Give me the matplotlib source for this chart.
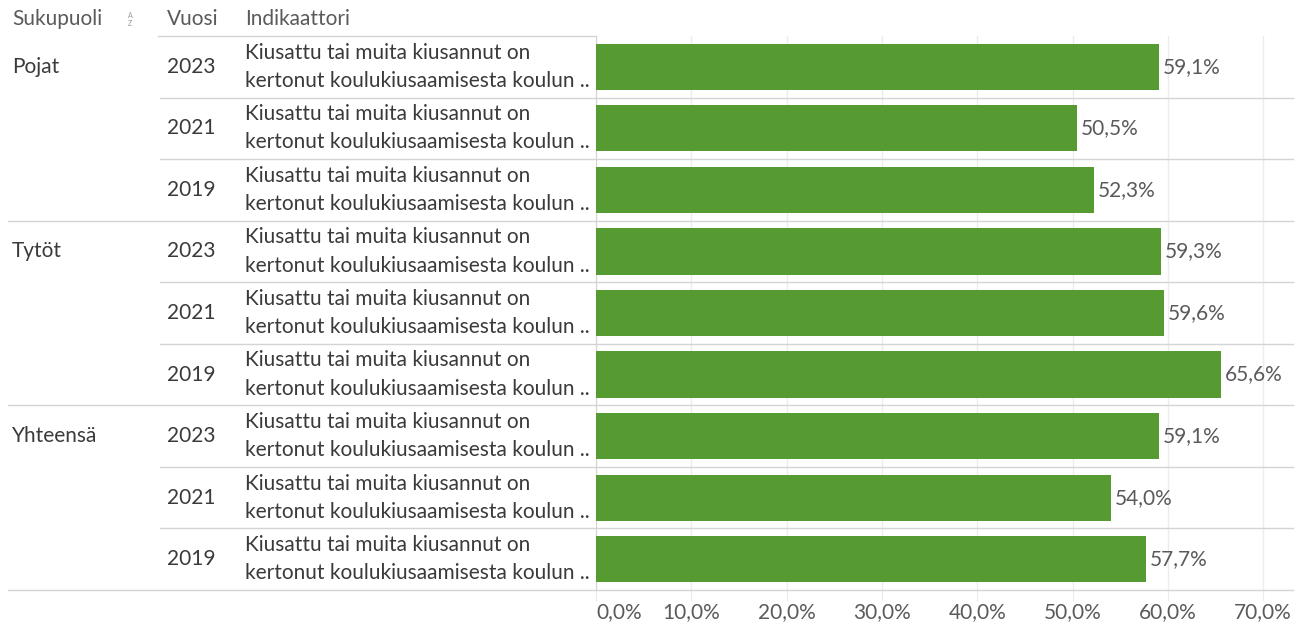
import matplotlib.pyplot as plt
import matplotlib.transforms as mtransforms
from matplotlib.lines import Line2D

plt.rcParams['font.family'] = ['Lato', 'DejaVu Sans']

groups = ["Pojat", "Tytöt", "Yhteensä"]
years = ["2023", "2021", "2019"]
values = [
    [59.1, 50.5, 52.3],
    [59.3, 59.6, 65.6],
    [59.1, 54.0, 57.7],
]
indicator = ["Kiusattu tai muita kiusannut on",
             "kertonut koulukiusaamisesta koulun .."]
xticks = [0, 10, 20, 30, 40, 50, 60, 70]

W, H = 1306, 626
bar_color = "#559b32"
text_color = "#3a3a3a"
label_color = "#5a5a5a"
line_color = "#d4d4d4"
grid_color = "#ececec"
fs = 15

fig = plt.figure(figsize=(W / 100, H / 100), dpi=100)
# chart area in pixel coordinates
x0, x1, y_top, y_bot = 596, 1293, 36, 590
ax = fig.add_axes([x0 / W, 1 - y_bot / H, (x1 - x0) / W, (y_bot - y_top) / H])

rows = []
for g, vals in zip(groups, values):
    for y, v in zip(years, vals):
        rows.append((g, y, v))
n = len(rows)
ypos = list(range(n))
ax.barh(ypos, [r[2] for r in rows], height=0.75, color=bar_color, zorder=3)
ax.set_ylim(n - 0.5, -0.5)
ax.set_xlim(0, (x1 - x0) / 9.53)

for i, r in enumerate(rows):
    ax.text(r[2] + 0.4, i, f"{r[2]:.1f}%".replace(".", ","), va="center",
            ha="left", fontsize=fs, color=label_color, zorder=4)

ax.set_xticks(xticks)
ax.set_xticklabels([f"{t:.1f}%".replace(".", ",") for t in xticks],
                   fontsize=fs, color=label_color)
ax.get_xticklabels()[0].set_ha("left")
ax.tick_params(axis="x", length=8, color=grid_color, pad=0.5)
ax.set_yticks([])
ax.grid(axis="x", color=grid_color, linewidth=1, zorder=0)
for s in ["top", "right", "bottom"]:
    ax.spines[s].set_visible(False)
ax.spines["left"].set_color(line_color)
ax.spines["left"].set_bounds(n - 0.5, -0.5)

# left side text table
tr = mtransforms.blended_transform_factory(fig.transFigure, ax.transData)
for i, r in enumerate(rows):
    if i % 3 == 0:
        fig.text(12 / W, i, r[0], transform=tr, va="center", ha="left",
                 fontsize=fs, color=text_color)
    fig.text(167 / W, i, r[1], transform=tr, va="center", ha="left",
             fontsize=fs, color=text_color)
    fig.text(245 / W, i - 0.23, indicator[0], transform=tr, va="center",
             ha="left", fontsize=fs, color=text_color)
    fig.text(245 / W, i + 0.23, indicator[1], transform=tr, va="center",
             ha="left", fontsize=fs, color=text_color)

# separators
fig.add_artist(Line2D([158 / W, x0 / W], [-0.5, -0.5], transform=tr,
                      color=line_color, linewidth=1))
for i in range(n):
    start = 8 if (i + 1) % 3 == 0 else 160
    fig.add_artist(Line2D([start / W, x1 / W], [i + 0.5, i + 0.5],
                          transform=tr, color=line_color, linewidth=1))

# header
fig.text(12 / W, 1 - 19 / H, "Sukupuoli", va="center", ha="left",
         fontsize=fs, color=label_color)
fig.text(130 / W, 1 - 16 / H, "A", va="center", ha="center",
         fontsize=5, color="#999999")
fig.text(130 / W, 1 - 23 / H, "Z", va="center", ha="center",
         fontsize=5, color="#999999")
fig.text(167 / W, 1 - 19 / H, "Vuosi", va="center", ha="left",
         fontsize=fs, color=label_color)
fig.text(245 / W, 1 - 19 / H, "Indikaattori", va="center", ha="left",
         fontsize=fs, color=label_color)

fig.savefig("out.png", dpi=100)
